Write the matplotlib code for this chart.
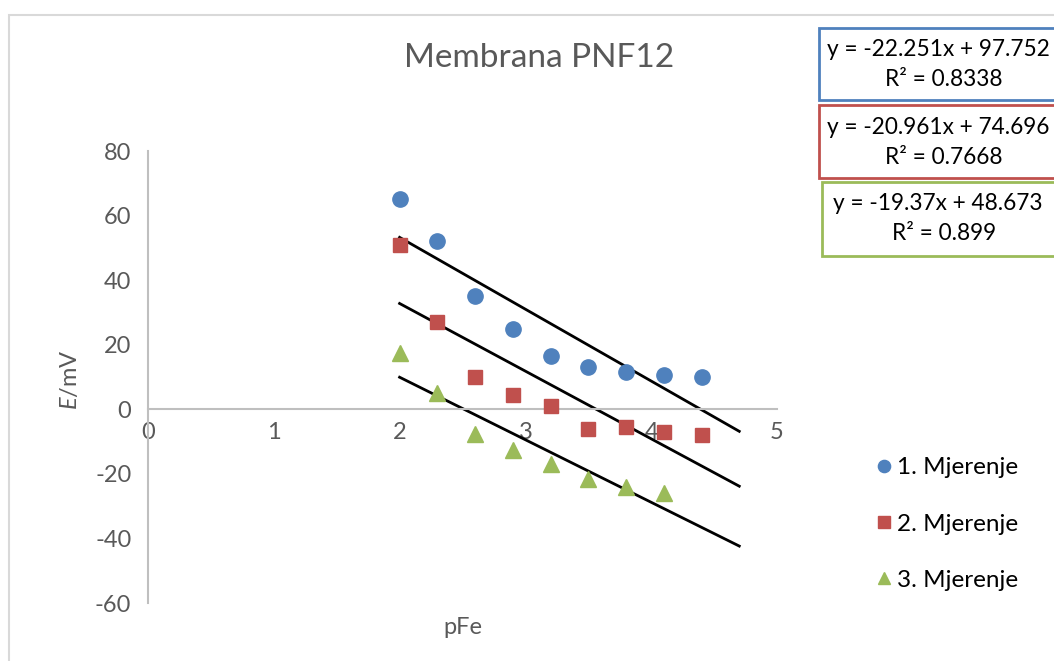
import matplotlib
matplotlib.use("Agg")
import matplotlib.pyplot as plt
from matplotlib.patches import Rectangle
import numpy as np

plt.rcParams['font.family'] = ['Lato', 'DejaVu Sans']
plt.rcParams['mathtext.fontset'] = 'custom'
plt.rcParams['mathtext.it'] = 'Lato:italic'
plt.rcParams['mathtext.rm'] = 'Lato'
plt.rcParams['axes.unicode_minus'] = False

# Data
x_vals = [2.0, 2.3, 2.6, 2.9, 3.2, 3.5, 3.8, 4.1, 4.4]
s1_vals = [65, 52, 35, 25, 16.5, 13, 11.5, 10.5, 10]
s2_vals = [51, 27, 10, 4.5, 1, -6, -5.5, -7, -8]
s3_vals = [17.5, 5, -7.5, -12.5, -17, -21.5, -24, -26]
series_names = ["1. Mjerenje", "2. Mjerenje", "3. Mjerenje"]
slopes = [-22.251, -20.961, -19.37]
intercepts = [97.752, 74.696, 48.673]
r2_vals = ["0.8338", "0.7668", "0.899"]
trend_x = [2.0, 4.7]
x_ticks = [0, 1, 2, 3, 4, 5]
y_ticks = [-60, -40, -20, 0, 20, 40, 60, 80]

W, H = 1054, 661
fig = plt.figure(figsize=(W / 100, H / 100), dpi=100)

# chart border
fig.patches.append(Rectangle((9 / W, -0.1), 1.2, 1 - 15 / H + 0.1, transform=fig.transFigure,
                             fill=False, edgecolor='#D9D9D9', lw=1.5))

ax = fig.add_axes([148 / W, 1 - 603 / H, (777 - 148) / W, (603 - 151) / H])
ax.set_xlim(0, 5)
ax.set_ylim(-60, 80)

colors = ['#4F81BD', '#C0504D', '#9BBB59']
markers = ['o', 's', '^']
sizes = [11, 10.5, 11]
data = [s1_vals, s2_vals, s3_vals]
handles = []
for i, ys in enumerate(data):
    xs = x_vals[:len(ys)]
    h, = ax.plot(xs, ys, linestyle='none', marker=markers[i], color=colors[i],
                 markersize=sizes[i], markeredgecolor=colors[i], zorder=3,
                 label=series_names[i])
    handles.append(h)
    tx = np.array(trend_x)
    ax.plot(tx, slopes[i] * tx + intercepts[i], color='black', lw=2, zorder=2)

for s in ['top', 'right']:
    ax.spines[s].set_visible(False)
ax.spines['bottom'].set_position(('data', 0))
ax.spines['left'].set_position(('data', 0))
for s in ['bottom', 'left']:
    ax.spines[s].set_color('#BFBFBF')
    ax.spines[s].set_linewidth(1.5)
ax.set_xticks(x_ticks)
ax.set_yticks(y_ticks)
ax.tick_params(axis='both', length=0, labelsize=17, labelcolor='#595959')
ax.tick_params(axis='x', pad=9)
ax.tick_params(axis='y', pad=12)
ax.patch.set_alpha(0)

fig.text(539 / W, 1 - 58 / H, "Membrana PNF12", ha='center', va='center',
         fontsize=24, color='#595959')
fig.text(463 / W, 1 - 628 / H, "pFe", ha='center', va='center',
         fontsize=17, color='#595959')
fig.text(70 / W, 1 - 380 / H, "$\\mathit{E}$/mV", ha='center', va='center',
         rotation=90, fontsize=17, color='#595959')

# equation boxes
boxes = [(819, 28, 100), (819, 105, 178), (822, 182, 256)]
for i, (bx, top, bot) in enumerate(boxes):
    fig.patches.append(Rectangle((bx / W, 1 - bot / H), 0.5, (bot - top) / H,
                                 transform=fig.transFigure, fill=True, facecolor='white',
                                 edgecolor=colors[i], lw=2, zorder=5))
    cx = 938 / W
    fig.text(cx, 1 - (top + 22) / H,
             f"y = {slopes[i]}x + {intercepts[i]}", ha='center', va='center',
             fontsize=16.3, color='black', zorder=6)
    fig.text(cx + 6 / W, 1 - (top + 52) / H, f"R² = {r2_vals[i]}", ha='center', va='center',
             fontsize=16.3, color='black', zorder=6)

fig.legend(handles=handles, labels=series_names, loc='center left',
           bbox_to_anchor=(878 / W, 1 - 524 / H), frameon=False, fontsize=17.5,
           handlelength=0.5, handletextpad=0.3, labelspacing=1.45, markerscale=0.8,
           borderpad=0, borderaxespad=0)

fig.savefig("out.png", dpi=100)
